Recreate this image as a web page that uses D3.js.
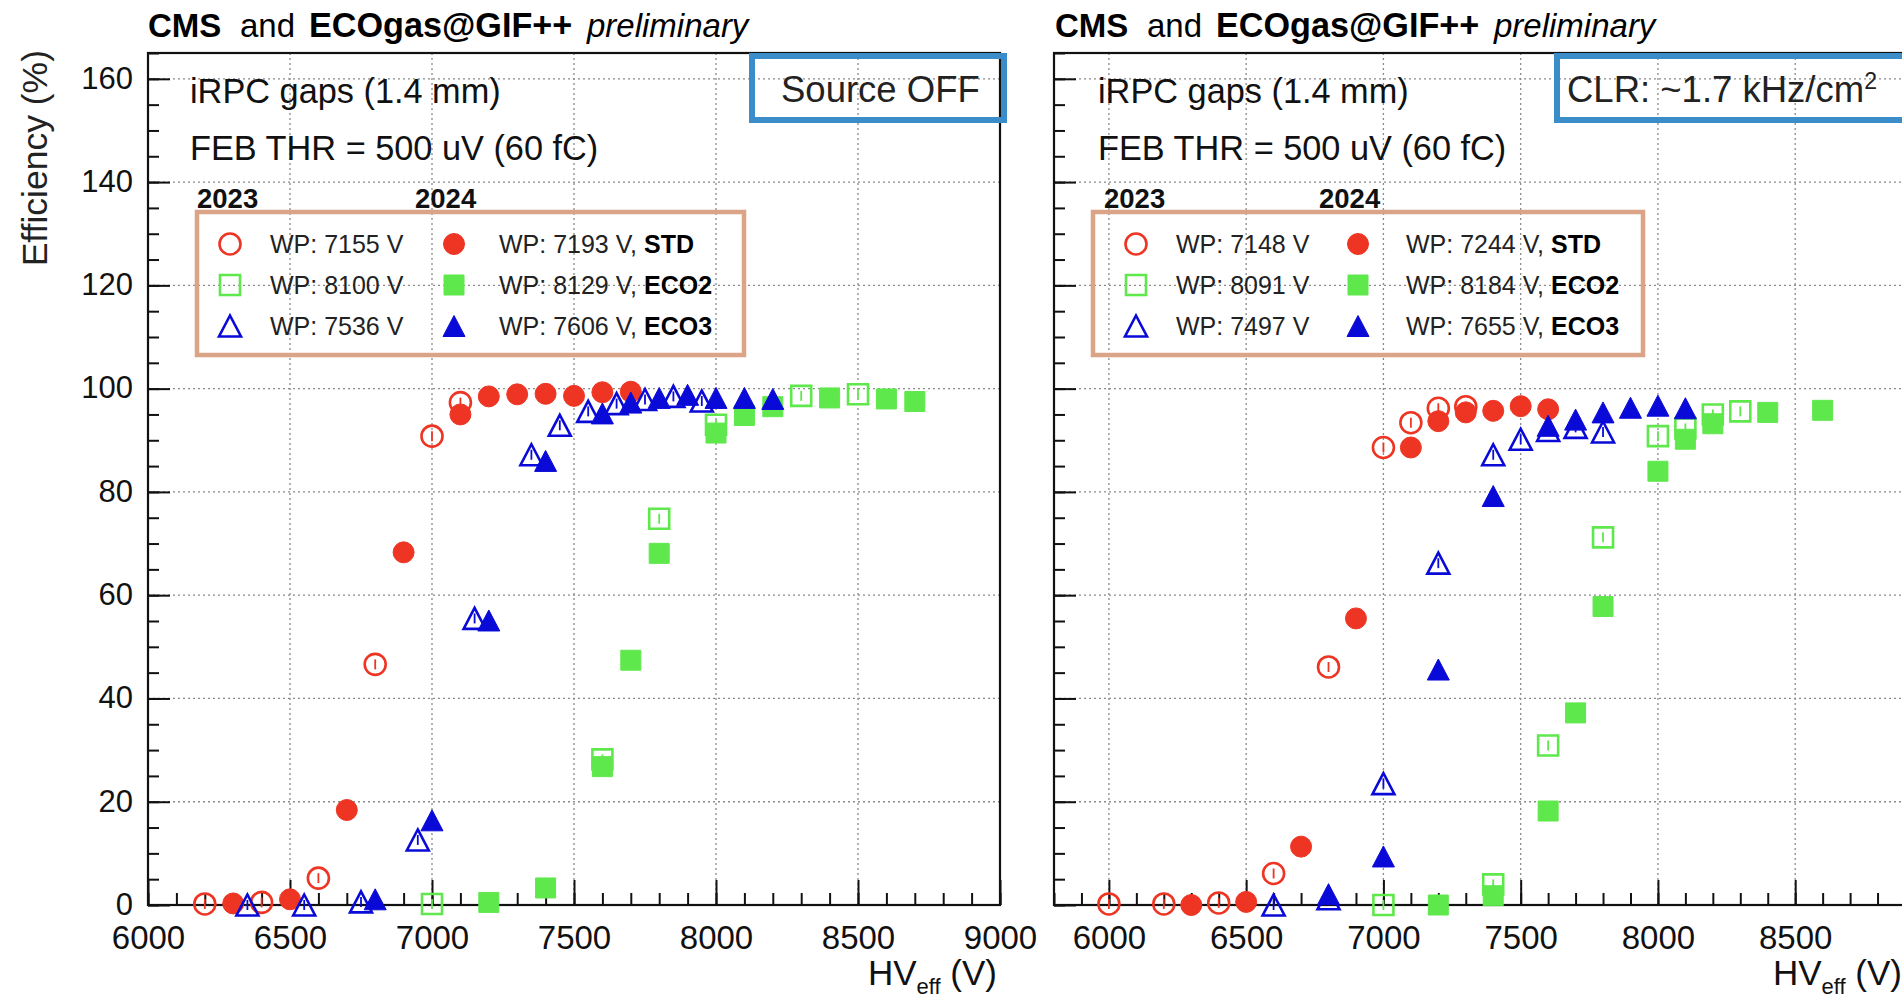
<!DOCTYPE html>
<html><head><meta charset="utf-8">
<script src="https://cdn.jsdelivr.net/npm/d3@7"></script>
<style>
body{margin:0;background:#fff;}
svg{display:block;font-family:"Liberation Sans",Arial,Helvetica,sans-serif;}
</style>
</head><body>
<svg id="c" width="1902" height="998"></svg>
<script>
// ---------------- DATA ----------------
// Left panel: Source OFF
const offStd2023X = [6200, 6400, 6600, 6800, 7000, 7100];
const offStd2023Y = [0.2, 0.5, 5.2, 46.6, 90.8, 97.3];
const offStd2024X = [6300, 6500, 6700, 6900, 7100, 7200, 7300, 7400, 7500, 7600, 7700];
const offStd2024Y = [0.3, 1.1, 18.4, 68.3, 95.0, 98.5, 98.9, 99.0, 98.6, 99.3, 99.4];
const offEco22023X = [7000, 7600, 7800, 8000, 8300, 8500];
const offEco22023Y = [0.2, 28.2, 74.8, 93.0, 98.6, 98.9];
const offEco22024X = [7200, 7400, 7600, 7700, 7800, 8000, 8100, 8200, 8400, 8600, 8700];
const offEco22024Y = [0.5, 3.3, 26.8, 47.4, 68.1, 91.4, 94.8, 96.5, 98.2, 98.0, 97.5];
const offEco32023X = [6350, 6550, 6750, 6950, 7150, 7350, 7450, 7550, 7650, 7750, 7850, 7950];
const offEco32023Y = [0, 0, 0.6, 12.6, 55.5, 87.2, 92.9, 95.6, 97.1, 97.9, 98.5, 97.6];
const offEco32024X = [6800, 7000, 7200, 7400, 7600, 7700, 7800, 7900, 8000, 8100, 8200];
const offEco32024Y = [1.1, 16.4, 55.1, 86.0, 95.2, 97.3, 98.2, 98.8, 98.2, 98.2, 98.0];

// Right panel: CLR ~1.7 kHz/cm2
const clrStd2023X = [6000, 6200, 6400, 6600, 6800, 7000, 7100, 7200, 7300];
const clrStd2023Y = [0.2, 0.2, 0.4, 6.1, 46.1, 88.6, 93.4, 96.2, 96.5];
const clrStd2024X = [6300, 6500, 6700, 6900, 7100, 7200, 7300, 7400, 7500, 7600];
const clrStd2024Y = [0, 0.6, 11.3, 55.5, 88.6, 93.7, 95.4, 95.7, 96.6, 96.0];
const clrEco22023X = [7000, 7400, 7600, 7800, 8000, 8100, 8200, 8300];
const clrEco22023Y = [0, 4.0, 30.9, 71.2, 90.8, 92.3, 95.0, 95.6];
const clrEco22024X = [7200, 7400, 7600, 7700, 7800, 8000, 8100, 8200, 8400, 8600];
const clrEco22024Y = [0, 1.8, 18.2, 37.2, 57.8, 84.0, 90.2, 93.2, 95.4, 95.8];
const clrEco32023X = [6600, 6800, 7000, 7200, 7400, 7500, 7600, 7700, 7800];
const clrEco32023Y = [0, 1.2, 23.5, 66.2, 87.2, 90.2, 91.9, 92.5, 91.6];
const clrEco32024X = [6800, 7000, 7200, 7400, 7600, 7700, 7800, 7900, 8000, 8100];
const clrEco32024Y = [2.1, 9.4, 45.6, 79.2, 92.8, 94.0, 95.4, 96.3, 96.7, 96.2];

// Axis / tick values
const yMajorTicks = [0, 20, 40, 60, 80, 100, 120, 140, 160];
const yMinorTicks = d3.range(0, 166, 5);
const leftXMajorTicks = [6000, 6500, 7000, 7500, 8000, 8500, 9000];
const rightXMajorTicks = [6000, 6500, 7000, 7500, 8000, 8500];
const leftXMinorTicks = d3.range(6000, 9001, 100);
const rightXMinorTicks = d3.range(5800, 8901, 100);

// Legend labels
const leftLegend2023 = ["WP: 7155 V", "WP: 8100 V", "WP: 7536 V"];
const leftLegend2024 = ["WP: 7193 V, ", "WP: 8129 V, ", "WP: 7606 V, "];
const rightLegend2023 = ["WP: 7148 V", "WP: 8091 V", "WP: 7497 V"];
const rightLegend2024 = ["WP: 7244 V, ", "WP: 8184 V, ", "WP: 7655 V, "];
const gasNames = ["STD", "ECO2", "ECO3"];

// ---------------- STYLE ----------------
const RED = "#ee3524", GREEN = "#5fe84c", BLUE = "#0a0ad8";
const gasColors = [RED, GREEN, BLUE];
const gasShapes = ["circle", "square", "triangle"];
const TAN = "#dca487", BOXBLUE = "#3b8dc9";

const svg = d3.select("#c");

function shapePath(shape) {
  if (shape === "circle") { const r = 10.5; return `M${-r},0A${r},${r} 0 1,0 ${r},0A${r},${r} 0 1,0 ${-r},0Z`; }
  if (shape === "square") { const s = 10; return `M${-s},${-s}H${s}V${s}H${-s}Z`; }
  const w = 11, h = 10.5; return `M0,${-h}L${w},${h}L${-w},${h}Z`;
}
function drawMarker(g, cx, cy, shape, color, filled) {
  const m = g.append("g").attr("transform", `translate(${cx},${cy})`);
  m.append("path").attr("d", shapePath(shape))
    .attr("fill", filled ? color : "none")
    .attr("stroke", color).attr("stroke-width", filled ? 1 : 2.6);
  return m;
}

function panel(cfg) {
  const x = d3.scaleLinear().domain(cfg.xDomain).range([cfg.left, cfg.right]);
  const y = d3.scaleLinear().domain([0, 165]).range([905, 53]);
  const g = svg.append("g");

  // grid
  const gridX = cfg.xMajor.filter(v => v > cfg.xDomain[0] && v < cfg.xDomain[1]);
  g.append("g").selectAll("line").data(gridX).join("line")
    .attr("x1", d => x(d)).attr("x2", d => x(d)).attr("y1", y(0)).attr("y2", y(165))
    .attr("stroke", "#8a8a8a").attr("stroke-width", 1.3).attr("stroke-dasharray", "2,3");
  g.append("g").selectAll("line").data(yMajorTicks.filter(v => v > 0)).join("line")
    .attr("x1", x(cfg.xDomain[0])).attr("x2", x(cfg.xDomain[1])).attr("y1", d => y(d)).attr("y2", d => y(d))
    .attr("stroke", "#8a8a8a").attr("stroke-width", 1.3).attr("stroke-dasharray", "2,3");

  // axes
  const axStyle = sel => { sel.select(".domain").remove(); sel.selectAll(".tick line").attr("stroke", "#111").attr("stroke-width", 2); };
  g.append("g").attr("transform", `translate(0,${y(0)})`)
    .call(d3.axisBottom(x).tickValues(cfg.xMinor).tickSize(-12).tickFormat("")).call(axStyle);
  const xa = g.append("g").attr("transform", `translate(0,${y(0)})`)
    .call(d3.axisBottom(x).tickValues(cfg.xMajor).tickSize(-25).tickPadding(21).tickFormat(d3.format("d"))).call(axStyle);
  xa.selectAll("text").attr("font-size", 33).attr("fill", "#111").attr("dy", "0.71em").attr("font-family", "Liberation Sans, Arial, sans-serif");
  g.append("g").attr("transform", `translate(${x(cfg.xDomain[0])},0)`)
    .call(d3.axisLeft(y).tickValues(yMinorTicks).tickSize(-11).tickFormat("")).call(axStyle);
  const ya = g.append("g").attr("transform", `translate(${x(cfg.xDomain[0])},0)`)
    .call(d3.axisLeft(y).tickValues(yMajorTicks).tickSize(-22).tickPadding(15).tickFormat(cfg.yLabels ? d3.format("d") : ""))
    .call(axStyle);
  ya.selectAll("text").attr("font-size", 31).attr("dy", "0.3em").attr("fill", "#111").attr("font-family", "Liberation Sans, Arial, sans-serif");

  // frame
  g.append("rect").attr("x", x(cfg.xDomain[0])).attr("y", y(165))
    .attr("width", x(cfg.xDomain[1]) - x(cfg.xDomain[0])).attr("height", y(0) - y(165))
    .attr("fill", "none").attr("stroke", "#111").attr("stroke-width", 2.2);

  // data
  const mg = g.append("g");
  cfg.series.forEach(s => {
    s.xs.forEach((xv, i) => {
      const px = x(xv), py = y(s.ys[i]);
      const m = drawMarker(mg, px, py, s.shape, s.color, s.filled);
      if (!s.filled) {
        m.append("line").attr("x1", 0).attr("x2", 0).attr("y1", -5).attr("y2", 5)
          .attr("stroke", s.color).attr("stroke-width", 1.8);
      }
    });
  });

  // title
  const tx = cfg.titleX;
  svg.append("text").attr("x", tx).attr("y", 37).attr("font-size", 33).attr("font-weight", "bold").attr("fill", "#000").text("CMS");
  svg.append("text").attr("x", tx + 92).attr("y", 37).attr("font-size", 33).attr("fill", "#000").text("and");
  svg.append("text").attr("x", tx + 161).attr("y", 37).attr("font-size", 34.2).attr("font-weight", "bold").attr("fill", "#000").text("ECOgas@GIF++");
  svg.append("text").attr("x", tx + 439).attr("y", 37).attr("font-size", 33).attr("font-style", "italic").attr("fill", "#000").text("preliminary");

  // info text
  svg.append("text").attr("x", cfg.infoX).attr("y", 103).attr("font-size", 34.3).attr("fill", "#111").text("iRPC gaps (1.4 mm)");
  svg.append("text").attr("x", cfg.infoX).attr("y", 160).attr("font-size", 34.3).attr("fill", "#111").text("FEB THR = 500 uV (60 fC)");
  svg.append("text").attr("x", cfg.y2023X).attr("y", 208).attr("font-size", 27.5).attr("font-weight", "bold").attr("fill", "#111").text("2023");
  svg.append("text").attr("x", cfg.y2024X).attr("y", 208).attr("font-size", 27.5).attr("font-weight", "bold").attr("fill", "#111").text("2024");

  // legend box
  svg.append("rect").attr("x", cfg.legBox[0]).attr("y", 212).attr("width", cfg.legBox[1] - cfg.legBox[0]).attr("height", 143)
    .attr("fill", "none").attr("stroke", TAN).attr("stroke-width", 4.5);
  const rowsY = [244, 285, 326];
  gasNames.forEach((gn, i) => {
    drawMarker(svg, cfg.legCols[0], rowsY[i], gasShapes[i], gasColors[i], false);
    svg.append("text").attr("x", cfg.legCols[1]).attr("y", rowsY[i] + 9).attr("font-size", 25).attr("fill", "#222").text(cfg.leg2023[i]);
    drawMarker(svg, cfg.legCols[2], rowsY[i], gasShapes[i], gasColors[i], true);
    const tt = svg.append("text").attr("x", cfg.legCols[3]).attr("y", rowsY[i] + 9).attr("font-size", 25).attr("fill", "#222");
    tt.append("tspan").text(cfg.leg2024[i]);
    tt.append("tspan").attr("font-weight", "bold").attr("fill", "#000").text(gn);
  });

  // condition box
  svg.append("rect").attr("x", cfg.condBox[0]).attr("y", 56).attr("width", cfg.condBox[1] - cfg.condBox[0]).attr("height", 64)
    .attr("fill", "none").attr("stroke", BOXBLUE).attr("stroke-width", 6);
  const ct = svg.append("text").attr("x", cfg.condBox[0] + cfg.condTextDx).attr("y", 102).attr("font-size", 36.5).attr("fill", "#222");
  cfg.condText(ct);

  // x title
  const xt = svg.append("text").attr("x", x(cfg.xDomain[1]) - 3).attr("y", 985).attr("text-anchor", "end").attr("font-size", 35).attr("fill", "#111");
  xt.append("tspan").text("HV");
  xt.append("tspan").attr("font-size", 22).attr("dy", 9).text("eff");
  xt.append("tspan").attr("dy", -9).text(" (V)");
}

panel({
  xDomain: [6000, 9000], left: 148, right: 1000, xMajor: leftXMajorTicks, xMinor: leftXMinorTicks, yLabels: true,
  titleX: 148, infoX: 190, y2023X: 197, y2024X: 415, legBox: [197, 744], legCols: [230, 270, 454, 499],
  leg2023: leftLegend2023, leg2024: leftLegend2024,
  condBox: [752, 1004], condTextDx: 29,
  condText: t => t.text("Source OFF"),
  series: [
    {xs: offStd2024X, ys: offStd2024Y, shape: "circle", color: RED, filled: true},
    {xs: offStd2023X, ys: offStd2023Y, shape: "circle", color: RED, filled: false},
    {xs: offEco22024X, ys: offEco22024Y, shape: "square", color: GREEN, filled: true},
    {xs: offEco22023X, ys: offEco22023Y, shape: "square", color: GREEN, filled: false},
    {xs: offEco32024X, ys: offEco32024Y, shape: "triangle", color: BLUE, filled: true},
    {xs: offEco32023X, ys: offEco32023Y, shape: "triangle", color: BLUE, filled: false}
  ]
});

panel({
  xDomain: [5800, 8900], left: 1054, right: 1905, xMajor: rightXMajorTicks, xMinor: rightXMinorTicks, yLabels: false,
  titleX: 1055, infoX: 1098, y2023X: 1104, y2024X: 1319, legBox: [1093, 1643], legCols: [1136, 1176, 1358, 1406],
  leg2023: rightLegend2023, leg2024: rightLegend2024,
  condBox: [1557, 1912], condTextDx: 10,
  condText: t => { t.append("tspan").text("CLR: ~1.7 kHz/cm"); t.append("tspan").attr("font-size", 23).attr("dy", -13).text("2"); },
  series: [
    {xs: clrStd2024X, ys: clrStd2024Y, shape: "circle", color: RED, filled: true},
    {xs: clrStd2023X, ys: clrStd2023Y, shape: "circle", color: RED, filled: false},
    {xs: clrEco22024X, ys: clrEco22024Y, shape: "square", color: GREEN, filled: true},
    {xs: clrEco22023X, ys: clrEco22023Y, shape: "square", color: GREEN, filled: false},
    {xs: clrEco32024X, ys: clrEco32024Y, shape: "triangle", color: BLUE, filled: true},
    {xs: clrEco32023X, ys: clrEco32023Y, shape: "triangle", color: BLUE, filled: false}
  ]
});

// y-axis title
svg.append("text").attr("transform", "translate(47,50) rotate(-90)").attr("text-anchor", "end")
  .attr("font-size", 35.5).attr("fill", "#222").text("Efficiency (%)");
</script>
</body></html>
